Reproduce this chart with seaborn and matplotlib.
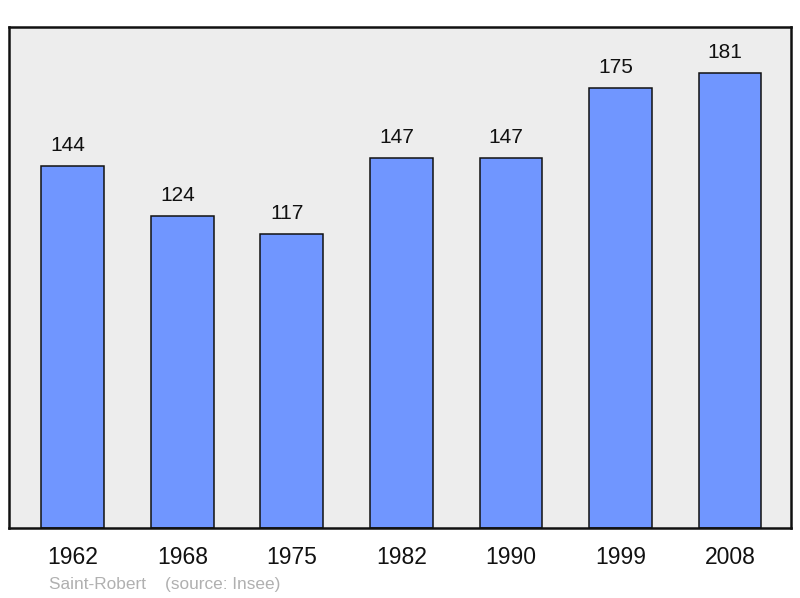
import matplotlib
matplotlib.use("Agg")
import matplotlib.pyplot as plt
import seaborn as sns
import pandas as pd

years = ["1962", "1968", "1975", "1982", "1990", "1999", "2008"]
population = [144, 124, 117, 147, 147, 175, 181]
commune = "Saint-Robert"
source = "(source: Insee)"

sns.set_theme(style="white")
plt.rcParams["font.family"] = ["Liberation Sans", "DejaVu Sans"]

df = pd.DataFrame({"year": years, "pop": population})

fig = plt.figure(figsize=(8, 5.98), dpi=100)
ax = fig.add_axes([9/800, (598-528)/598, (791-9)/800, (528-27)/598])
ax.set_facecolor("#ededed")

sns.barplot(data=df, x="year", y="pop", ax=ax, color="#7096ff", saturation=1,
            width=0.575, edgecolor="#111111", linewidth=1.1)

for i, v in enumerate(population):
    ax.annotate(str(v), (i, v), xytext=(-3.5, 8), textcoords="offset points",
                ha="center", va="bottom", fontsize=15, color="#111111")

ax.set_xlim(-0.584, 6.557)
ax.set_ylim(0, 199.3)
ax.set_yticks([])
ax.set_xlabel("")
ax.set_ylabel("")
ax.tick_params(axis="x", length=0, pad=13, labelsize=16.5, labelcolor="#111111")
for s in ax.spines.values():
    s.set_visible(True)
    s.set_color("#111111")
    s.set_linewidth(1.8)

fig.text(49/800, 1 - 584/598, commune + "    " + source, fontsize=12.4,
         color="#b0b0b0", ha="left", va="center")

fig.savefig("out.png", dpi=100)
